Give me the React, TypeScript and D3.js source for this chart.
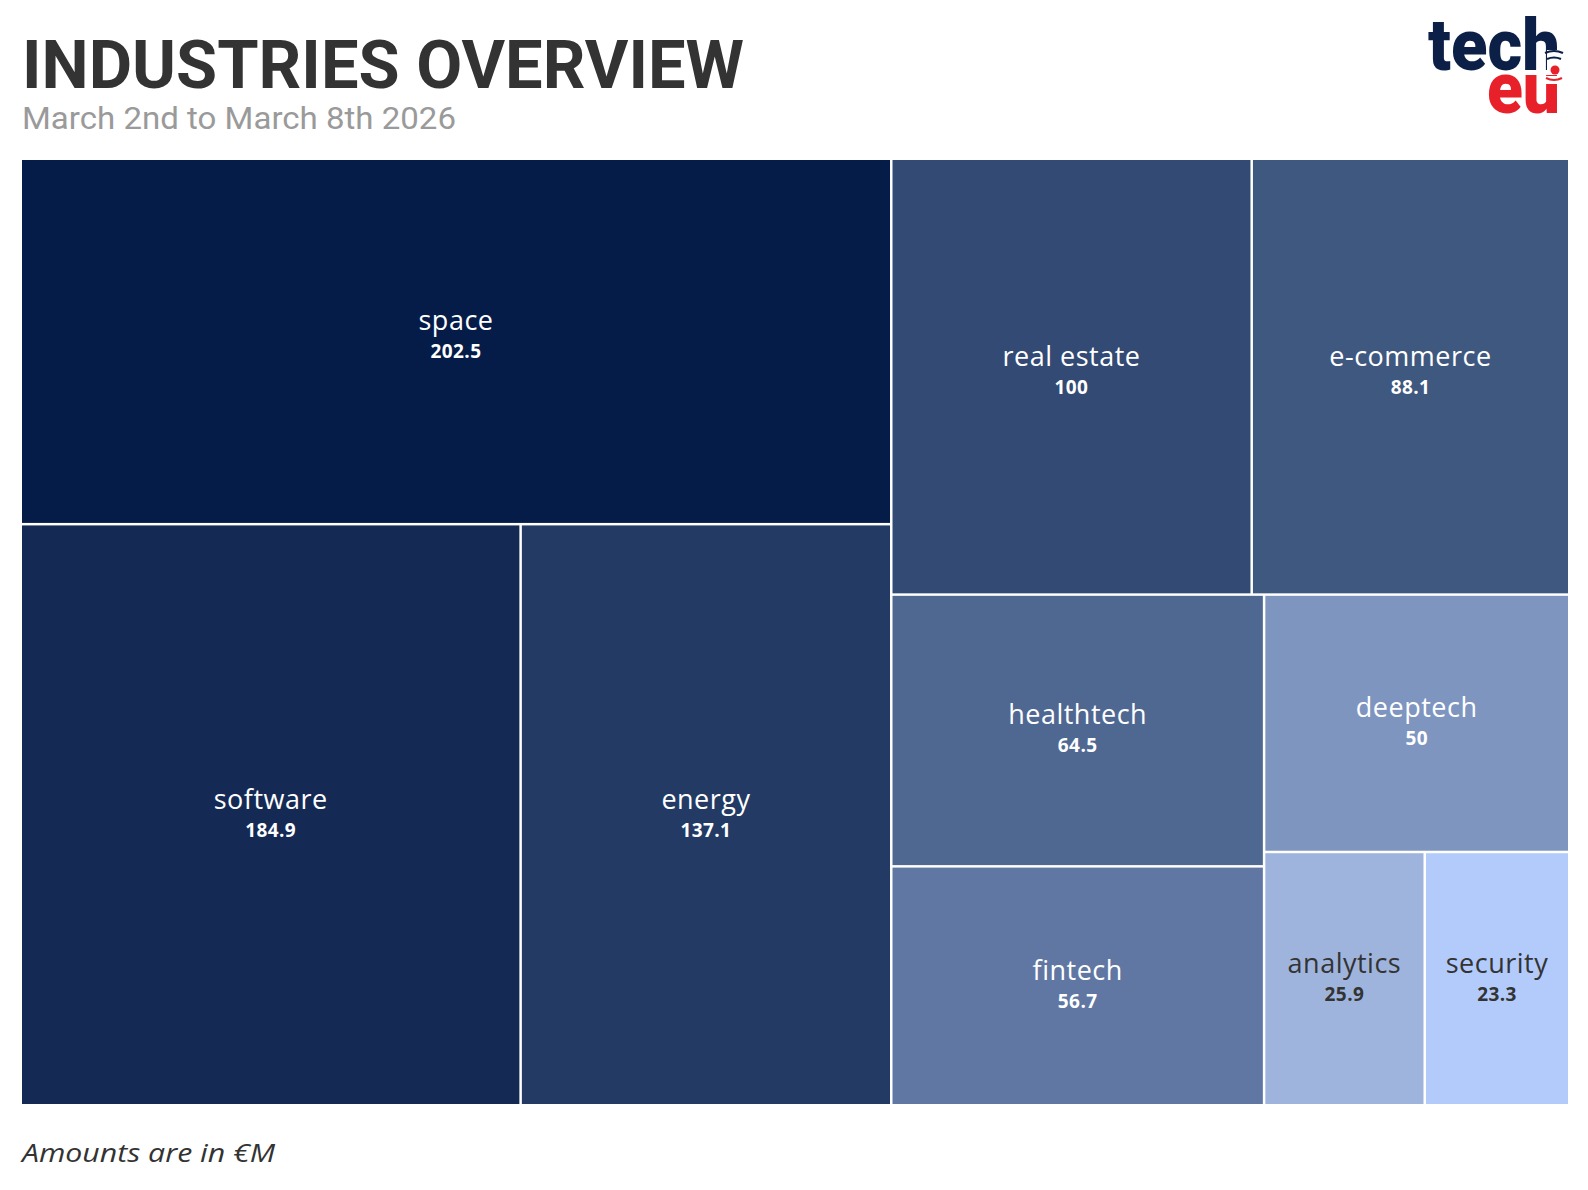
import React from "react";
import * as d3 from "d3";

const industries = ["space", "software", "energy", "real estate", "e-commerce", "healthtech", "fintech", "deeptech", "analytics", "security"];
const amounts = [202.5, 184.9, 137.1, 100, 88.1, 64.5, 56.7, 50, 25.9, 23.3];
const palette = ["#041c47", "#142a55", "#223a64", "#324a74", "#3f5880", "#4f6892", "#5f77a2", "#7e95bf", "#9fb4dc", "#b3cbfb"];

const titleText = "INDUSTRIES OVERVIEW";
const subtitleText = "March 2nd to March 8th 2026";
const footerText = "Amounts are in €M";

const W = 1588;
const H = 1190;
const TX = 22;
const TY = 160;
const TW = 1546;
const TH = 944;

export default function App() {
  const color = d3.scaleOrdinal<string, string>().domain(industries).range(palette);
  const data = industries.map((name, i) => ({ name, value: amounts[i] }));
  const root = d3
    .hierarchy<any>({ name: "root", children: data })
    .sum((d: any) => d.value || 0);
  d3.treemap<any>().tile(d3.treemapBinary).size([TW, TH]).paddingInner(2.5)(root);
  const leaves = root.leaves() as any[];

  return (
    <svg width={W} height={H} style={{ position: "absolute", left: 0, top: 0, display: "block", background: "#fff" }}>
      <text x={22} y={88} fill="#333" fontFamily="'Liberation Sans Narrow', 'Roboto', sans-serif" fontWeight={700} fontSize={66} textLength={722} lengthAdjust="spacingAndGlyphs">
        {titleText}
      </text>
      <text x={22} y={129} fill="#9a9a9a" fontFamily="'Liberation Sans Narrow', 'Roboto', sans-serif" fontSize={32} textLength={434} lengthAdjust="spacingAndGlyphs">
        {subtitleText}
      </text>

      <g>
        <text x={1428} y={70} fill="#0b1f47" fontFamily="Roboto, 'Open Sans', sans-serif" fontWeight={900} fontSize={72} textLength={132} lengthAdjust="spacingAndGlyphs">
          tech
        </text>
        <rect x={1547} y={50} width={16} height={22} fill="#ffffff" />
        <path d="M1545,53 Q1554,49 1563,53" stroke="#0b1f47" strokeWidth={2.2} fill="none" />
        <path d="M1547,59 Q1554,56 1561,59" stroke="#0b1f47" strokeWidth={2.2} fill="none" />
        <text x={1487} y={113} fill="#e8202a" fontFamily="Roboto, 'Open Sans', sans-serif" fontWeight={900} fontSize={72} textLength={73} lengthAdjust="spacingAndGlyphs">
          eu
        </text>
        <rect x={1546} y={76} width={16} height={8} fill="#ffffff" />
        <circle cx={1555} cy={70} r={4.5} fill="#e8202a" />
        <path d="M1546,78 Q1554,82 1562,78" stroke="#e8202a" strokeWidth={2.2} fill="none" />
      </g>

      <g transform={`translate(${TX},${TY})`}>
        {leaves.map((d) => {
          const fill = color(d.data.name);
          const dark = d3.hsl(fill).l > 0.7;
          const cx = (d.x0 + d.x1) / 2;
          const cy = (d.y0 + d.y1) / 2;
          const lift = d.y0 < 1 ? 5 : 0;
          const tc = dark ? "#333333" : "#ffffff";
          return (
            <g key={d.data.name}>
              <rect x={d.x0} y={d.y0} width={d.x1 - d.x0} height={d.y1 - d.y0} fill={fill} />
              <text x={cx} y={cy - 6 - lift} textAnchor="middle" fill={tc} fontFamily="'Open Sans', sans-serif" fontSize={27} letterSpacing={0.5}>
                {d.data.name}
              </text>
              <text x={cx} y={cy + 22 - lift} textAnchor="middle" fill={tc} fontFamily="'Open Sans', sans-serif" fontWeight={700} fontSize={19} letterSpacing={0.4}>
                {String(d.data.value)}
              </text>
            </g>
          );
        })}
      </g>

      <text x={22} y={1162} fill="#333" fontFamily="'Open Sans', sans-serif" fontStyle="italic" fontSize={26} textLength={253} lengthAdjust="spacingAndGlyphs">
        {footerText}
      </text>
    </svg>
  );
}
